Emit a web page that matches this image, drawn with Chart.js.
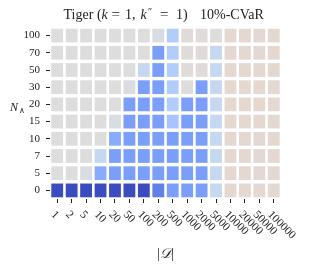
<!DOCTYPE html>
<html>
<head>
<meta charset="utf-8">
<script src="https://cdn.jsdelivr.net/npm/chart.js@4.4.1/dist/chart.umd.min.js"></script>
<style>
    html, body { margin: 0; padding: 0; background: #fff; }
    #wrap { width: 310px; height: 270px; }
</style>
</head>
<body>
<div id="wrap"><canvas id="myChart"></canvas></div>
<script>
// data ===============================================================
const dataSizes = ['1', '2', '5', '10', '20', '50', '100', '200', '500', '1000', '2000', '5000', '10000', '20000', '50000', '100000'];
const nLambda = ['0', '5', '7', '10', '15', '20', '30', '50', '70', '100'];
// colour position (0 = best / blue, 0.5 = neutral, >0.5 = worse), rows follow nLambda
const row0   = [0, 0, 0, 0, 0, 0, 0, 0.12, 0.2, 0.2, 0.2, 0.42, 0.53, 0.53, 0.53, 0.53];
const row5   = [0.5, 0.5, 0.48, 0.235, 0.2, 0.2, 0.2, 0.2, 0.2, 0.2, 0.2, 0.42, 0.53, 0.53, 0.53, 0.53];
const row7   = [0.5, 0.5, 0.5, 0.42, 0.2, 0.2, 0.2, 0.2, 0.2, 0.2, 0.2, 0.42, 0.53, 0.53, 0.53, 0.53];
const row10  = [0.5, 0.5, 0.5, 0.5, 0.235, 0.2, 0.2, 0.2, 0.2, 0.2, 0.2, 0.42, 0.53, 0.53, 0.53, 0.53];
const row15  = [0.5, 0.5, 0.5, 0.5, 0.48, 0.2, 0.2, 0.2, 0.32, 0.2, 0.2, 0.42, 0.53, 0.53, 0.53, 0.53];
const row20  = [0.5, 0.5, 0.5, 0.5, 0.5, 0.2, 0.2, 0.2, 0.36, 0.2, 0.2, 0.42, 0.53, 0.53, 0.53, 0.53];
const row30  = [0.5, 0.5, 0.5, 0.5, 0.5, 0.49, 0.2, 0.2, 0.36, 0.5, 0.2, 0.42, 0.53, 0.53, 0.53, 0.53];
const row50  = [0.5, 0.5, 0.5, 0.5, 0.5, 0.5, 0.42, 0.2, 0.36, 0.51, 0.51, 0.42, 0.53, 0.53, 0.53, 0.53];
const row70  = [0.5, 0.5, 0.5, 0.5, 0.5, 0.5, 0.5, 0.2, 0.36, 0.51, 0.51, 0.42, 0.53, 0.53, 0.53, 0.53];
const row100 = [0.5, 0.5, 0.5, 0.5, 0.5, 0.5, 0.5, 0.48, 0.36, 0.51, 0.51, 0.5, 0.53, 0.53, 0.53, 0.53];
const rows = [row0, row5, row7, row10, row15, row20, row30, row50, row70, row100];

// coolwarm ===============================================================
const cwStops = [
    [0, 59, 76, 192], [0.03125, 68, 90, 204], [0.0625, 77, 104, 215], [0.09375, 87, 117, 225],
    [0.125, 98, 130, 234], [0.15625, 108, 142, 241], [0.1875, 119, 154, 247], [0.21875, 130, 165, 251],
    [0.25, 141, 176, 254], [0.28125, 152, 185, 255], [0.3125, 163, 194, 255], [0.34375, 174, 201, 253],
    [0.375, 184, 208, 249], [0.40625, 194, 213, 244], [0.4375, 204, 217, 238], [0.46875, 213, 219, 230],
    [0.5, 221, 221, 221], [0.53125, 229, 216, 209], [0.5625, 236, 211, 197], [0.59375, 241, 204, 185]
];
function coolwarm(t) {
    for (let i = 1; i < cwStops.length; i++) {
        if (t <= cwStops[i][0]) {
            const a = cwStops[i - 1], b = cwStops[i];
            const f = (t - a[0]) / (b[0] - a[0]);
            const c = [1, 2, 3].map(k => Math.round(a[k] + (b[k] - a[k]) * f));
            return 'rgb(' + c.join(',') + ')';
        }
    }
    const l = cwStops[cwStops.length - 1];
    return 'rgb(' + l[1] + ',' + l[2] + ',' + l[3] + ')';
}

// extra text ===============================================================
const SERIF = '"Liberation Serif", "Times New Roman", serif';
function textParts(ctx, parts, x, y) {
    let w = 0;
    parts.forEach(p => { ctx.font = p[1]; w += ctx.measureText(p[0]).width; });
    let cx = x - w / 2;
    parts.forEach(p => {
        ctx.font = p[1];
        ctx.fillText(p[0], cx, y);
        cx += ctx.measureText(p[0]).width;
    });
}
const labelsPlugin = {
    id: 'labelsPlugin',
    afterDraw(chart) {
        const ctx = chart.ctx;
        const xs = chart.scales.x;
        const mid = (chart.chartArea.left + chart.chartArea.right) / 2;
        ctx.save();
        ctx.fillStyle = '#222';
        ctx.textBaseline = 'alphabetic';
        ctx.textAlign = 'left';
        // title, mathtext-like spacing
        const reg = '14px ' + SERIF, ita = 'italic 14px ' + SERIF, eq = '15px ' + SERIF;
        const title = [
            ['Tiger', reg, 63.5, 0], ['(', reg, 97, 0], ['k', ita, 101.5, 0], ['=', eq, 111.5, 0],
            ['1,', reg, 125, 0], ['k', ita, 140.5, 0], ['\u2033', '10px ' + SERIF, 148, -4],
            ['=', eq, 160, 0], ['1)', reg, 176, 0], ['10%-CVaR', reg, 200, 0]
        ];
        title.forEach(t => { ctx.font = t[1]; ctx.fillText(t[0], t[2], 18.5 + t[3]); });
        // x tick labels, rotated
        ctx.font = '11.5px ' + SERIF;
        dataSizes.forEach((lab, i) => {
            const px = xs.getPixelForValue(i);
            ctx.save();
            ctx.translate(px - 6.5, 215);
            ctx.rotate(Math.PI / 4);
            ctx.fillText(lab, 0, 0);
            ctx.restore();
        });
        // x title
        textParts(ctx, [['|', '14px ' + SERIF], ['\uD835\uDC9F', 'italic 14px ' + SERIF], ['|', '14px ' + SERIF]], mid, 258);
        // y title
        ctx.font = 'italic 12px ' + SERIF;
        ctx.fillText('N', 10, 110.5);
        ctx.font = '8px ' + SERIF;
        ctx.fillText('\u2227', 18.5, 113);
        ctx.restore();
    }
};

// chart ===============================================================
function plot_heat() {
    let ctx = document.getElementById('myChart');
    let datasets = rows.map((vals, r) => ({
        label: nLambda[r],
        data: vals.map(() => [r - 0.4, r + 0.4]),
        backgroundColor: vals.map(coolwarm),
        borderWidth: 0,
        barPercentage: 0.82,
        categoryPercentage: 1.0,
        grouped: false,
    }));
    let options = {
        responsive: true,
        maintainAspectRatio: false,
        animation: false,
        layout: { padding: { left: 0, right: 29, top: 27, bottom: 0 } },
        plugins: { legend: { display: false }, tooltip: { enabled: false } },
        scales: {
            x: {
                type: 'category',
                offset: true,
                grid: { offset: false, drawOnChartArea: false, drawTicks: true, tickLength: 4, color: '#222' },
                border: { display: false },
                ticks: { display: false },
                afterFit: (s) => { s.height = 71; },
            },
            y: {
                type: 'linear',
                min: -0.5,
                max: 9.5,
                afterBuildTicks: (s) => { s.ticks = nLambda.map((_, i) => ({ value: i })); },
                grid: { drawOnChartArea: false, drawTicks: true, tickLength: 4, color: '#222' },
                border: { display: false },
                ticks: {
                    padding: 6,
                    color: '#222',
                    font: { family: SERIF, size: 11 },
                    callback: (v) => nLambda[v],
                },
                afterFit: (s) => { s.width = 50; },
            },
        },
    };
    new Chart(ctx, {
        type: 'bar',
        data: { labels: dataSizes, datasets: datasets },
        options: options,
        plugins: [labelsPlugin]
    });
}
plot_heat();
</script>
</body>
</html>
